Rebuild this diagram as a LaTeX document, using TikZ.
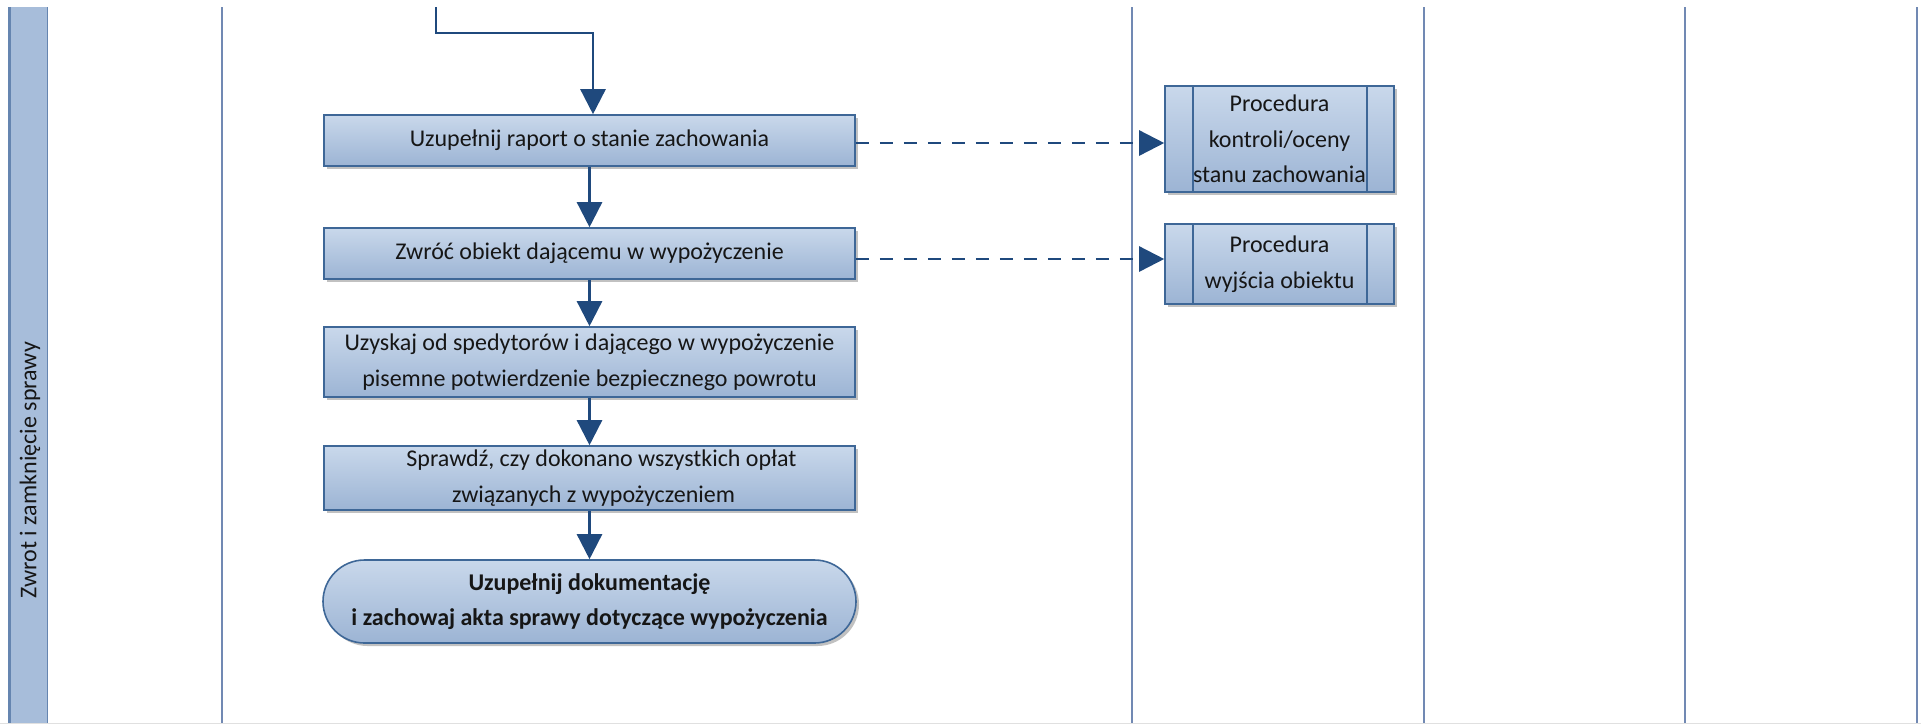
\documentclass[tikz,border=0pt]{standalone}
\usepackage{fontspec}
\setmainfont{Carlito}
\usetikzlibrary{arrows.meta,shadows}

\definecolor{laneline}{HTML}{7189B3}
\definecolor{band}{HTML}{A7BDDA}
\definecolor{bandedge}{HTML}{6585B0}
\definecolor{boxtop}{HTML}{C9D8EB}
\definecolor{boxbot}{HTML}{9CB4D4}
\definecolor{boxline}{HTML}{3E6797}
\definecolor{flowblue}{HTML}{1F497D}
\definecolor{ink}{HTML}{161616}

\tikzset{
  task/.style={draw=boxline, line width=0.8pt, top color=boxtop, bottom color=boxbot,
    inner sep=0pt, align=center, text=ink, font=\fontsize{12}{17.75}\selectfont,
    minimum width=265.5pt,
    drop shadow={shadow xshift=1.5pt, shadow yshift=-1.5pt, opacity=0.4, fill=black!60}},
  subproc/.style={path picture={
    \draw[boxline, line width=0.8pt]
      ([xshift=14pt]path picture bounding box.north west) -- ([xshift=14pt]path picture bounding box.south west)
      ([xshift=-13.5pt]path picture bounding box.north east) -- ([xshift=-13.5pt]path picture bounding box.south east);}},
  flow/.style={draw=flowblue, line width=1.25pt, -{Triangle[length=12.5pt,width=12.5pt]}},
  dflow/.style={flow, dash pattern=on 6.5pt off 5.5pt},
  lane/.style={draw=laneline, line width=1pt}
}

\begin{document}
\begin{tikzpicture}[x=0.5pt,y=-0.5pt]
  \useasboundingbox (0,0) rectangle (1921,725);
  \fill[white] (0,0) rectangle (1921,725);

  % swimlane header band and label
  \fill[band] (8,7) rectangle (48,723);
  \draw[bandedge, line width=1.5pt] (9,7) -- (9,723);
  \draw[bandedge, line width=0.75pt] (47.5,7) -- (47.5,723);
  \node[rotate=90, text=ink, font=\fontsize{12}{14}\selectfont] (lanelabel) at (30,470) {Zwrot i zamknięcie sprawy};

  % column separators
  \foreach \x in {222,1132,1423.5,1685,1917}
    \draw[lane] (\x,7) -- (\x,723);
  \draw[black!12, line width=0.5pt] (0,723.5) -- (1921,723.5);

  % main flow
  \node[task, minimum height=25.5pt] (b1) at (589.5,140.5) {Uzupełnij raport o stanie zachowania};
  \node[task, minimum height=25.5pt] (b2) at (589.5,253.5) {Zwróć obiekt dającemu w wypożyczenie};
  \node[task, minimum height=35pt] (b3) at (589.5,362) {Uzyskaj od spedytorów i dającego w wypożyczenie\\pisemne potwierdzenie bezpiecznego powrotu};
  \node[task, minimum height=32pt] (b4) at (589.5,478) {\hspace*{12pt}Sprawdź, czy dokonano wszystkich opłat\\\hspace*{4pt}związanych z wypożyczeniem};
  \node[task, rounded corners=20.75pt, minimum height=41.5pt, minimum width=266.5pt,
        font=\bfseries\fontsize{12}{17.75}\selectfont] (b5) at (589.5,601.5)
        {Uzupełnij dokumentację\\i zachowaj akta sprawy dotyczące wypożyczenia};

  % referenced procedures
  \node[task, subproc, minimum width=114.5pt, minimum height=53pt] (pA) at (1279.5,139) {Procedura\\kontroli/oceny\\stanu zachowania};
  \node[task, subproc, minimum width=114.5pt, minimum height=40pt] (pB) at (1279.5,264) {Procedura\\wyjścia obiektu};

  % connectors
  \coordinate (entry) at (436,7);
  \coordinate (bend) at (593,33);
  \draw[flow] (entry) |- (bend) -- (bend |- b1.north);
  \draw[flow] (b1.south) -- (b2.north);
  \draw[flow] (b2.south) -- (b3.north);
  \draw[flow] (b3.south) -- (b4.north);
  \draw[flow] (b4.south) -- (b5.north);

  \draw[dflow] ([yshift=-1.25pt]b1.east) -- ([yshift=-1.25pt]b1.east -| pA.west);
  \draw[dflow] ([yshift=-2.75pt]b2.east) -- ([yshift=-2.75pt]b2.east -| pB.west);
\end{tikzpicture}
\end{document}
